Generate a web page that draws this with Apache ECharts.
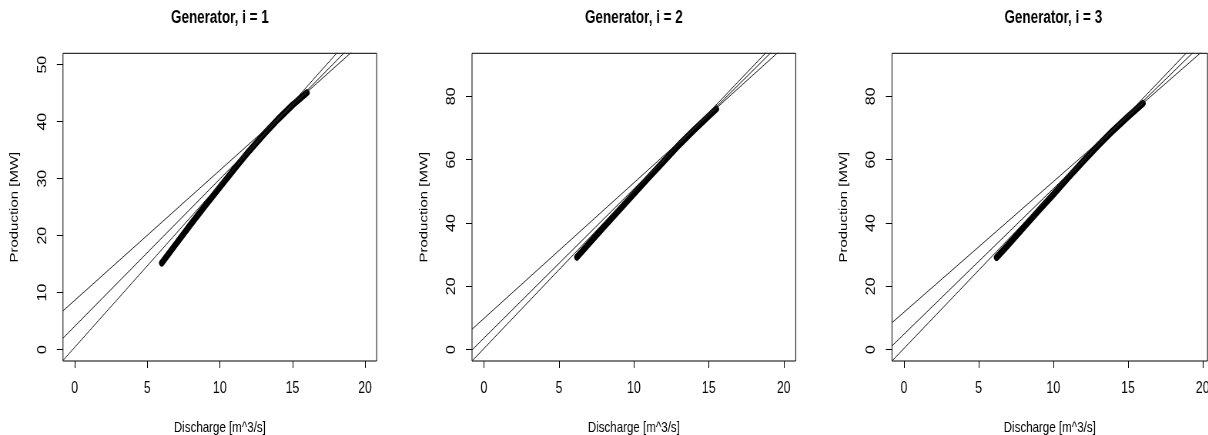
<!DOCTYPE html>
<html><head><meta charset="utf-8">
<script src="https://cdn.jsdelivr.net/npm/echarts@6/dist/echarts.min.js"></script>
<style>
html,body{margin:0;padding:0;overflow:hidden;background:#fff;width:1208px;height:435px}
#wrap{width:1208px;height:435px;overflow:hidden;position:relative}
#chart{width:1569px;height:435px;transform:scaleX(0.77);transform-origin:0 0;position:absolute;left:0;top:0}
</style>
</head><body><div id="wrap"><div id="chart"></div></div>
<script>
// ---- data ----
const titles = ['Generator, i = 1', 'Generator, i = 2', 'Generator, i = 3'];
const xLabel = 'Discharge [m^3/s]';
const yLabel = 'Production [MW]';
const xTicks = [0, 5, 10, 15, 20];
const yTicks1 = [0, 10, 20, 30, 40, 50];
const yTicks23 = [0, 20, 40, 60, 80];
const xRange12 = [-0.8, 20.8];
const xRange3 = [-0.8, 20.32];
const yRange1 = [-2, 52];
const yRange23 = [-3.6, 93.6];

const discharge1 = [6, 7, 8, 9, 10, 11, 12, 13, 14, 15, 16];
const production1 = [15.2, 18.6, 22.0, 25.3, 28.5, 31.7, 34.8, 37.7, 40.4, 42.9, 45.1];
const discharge2 = [6.2, 7, 8, 9, 10, 11, 12, 13, 14, 15, 15.5];
const production2 = [29.2, 33.5, 38.8, 44.0, 49.2, 54.4, 59.5, 64.6, 69.3, 73.8, 76.0];
const discharge3 = [6.2, 7, 8, 9, 10, 11, 12, 13, 14, 15, 16];
const production3 = [29.1, 33.2, 38.5, 43.8, 49.0, 54.3, 59.5, 64.5, 69.2, 73.6, 77.8];

// straight lines y = intercept + slope * x
const intercept1 = [8.63, 4.07, 0.39];
const slope1 = [2.285, 2.587, 2.861];
const intercept2 = [9.87, 3.67, 0.37];
const slope2 = [4.283, 4.709, 4.967];
const intercept3 = [11.8, 4.85, 0.35];
const slope3 = [4.127, 4.599, 4.939];

// ---- layout (chart canvas is drawn wide, then squeezed horizontally) ----
const panels = [
  { left: 81.8, width: 407.4, xRange: xRange12, yRange: yRange1, yTicks: yTicks1, q: discharge1, p: production1, a: intercept1, b: slope1, tc: 285.5 },
  { left: 613.0, width: 420.4, xRange: xRange12, yRange: yRange23, yTicks: yTicks23, q: discharge2, p: production2, a: intercept2, b: slope2, tc: 823.2 },
  { left: 1158.4, width: 409.8, xRange: xRange3, yRange: yRange23, yTicks: yTicks23, q: discharge3, p: production3, a: intercept3, b: slope3, tc: 1367.9 }
];
const FONT = 'Liberation Sans, Arial, sans-serif';
const gridTop = 53.3, gridHeight = 307.7;

const option = { animation: false, backgroundColor: '#fff', title: [], grid: [], xAxis: [], yAxis: [], series: [] };

panels.forEach((pn, i) => {
  option.title.push({
    text: titles[i], left: pn.tc, top: 9.5, textAlign: 'center', textVerticalAlign: 'top', padding: 0,
    textStyle: { fontFamily: FONT, fontSize: 17.5, fontWeight: 'bold', color: '#000' }
  });
  option.grid.push({
    left: pn.left, top: gridTop, width: pn.width, height: gridHeight,
    show: true, borderColor: '#000', borderWidth: 1, backgroundColor: 'transparent',
    containLabel: false, outerBoundsMode: 'none'
  });
  option.xAxis.push({
    type: 'value', gridIndex: i, min: pn.xRange[0], max: pn.xRange[1], position: 'bottom',
    name: xLabel, nameLocation: 'middle', nameGap: 59, nameMoveOverlap: false,
    nameTextStyle: { fontFamily: FONT, fontSize: 15, color: '#000' },
    axisLine: { show: false, onZero: false }, splitLine: { show: false },
    axisTick: { show: true, inside: false, customValues: xTicks, length: 7, lineStyle: { color: '#000', width: 1 } },
    axisLabel: { customValues: xTicks, margin: 19.5, fontFamily: FONT, fontSize: 16, color: '#000' }
  });
  option.yAxis.push({
    type: 'value', gridIndex: i, min: pn.yRange[0], max: pn.yRange[1], position: 'left',
    name: yLabel, nameLocation: 'middle', nameGap: 55, nameMoveOverlap: false,
    nameTextStyle: { fontFamily: FONT, fontSize: 15, color: '#000' },
    axisLine: { show: false, onZero: false }, splitLine: { show: false },
    axisTick: { show: true, inside: false, customValues: pn.yTicks, length: 8, lineStyle: { color: '#000', width: 1 } },
    axisLabel: { customValues: pn.yTicks, rotate: 90, margin: 18.5, fontFamily: FONT, fontSize: 16, color: '#000' }
  });
  option.series.push({
    type: 'line', xAxisIndex: i, yAxisIndex: i, silent: true, showSymbol: false, symbol: 'none',
    data: pn.q.map((x, k) => [x, pn.p[k]]),
    lineStyle: { color: '#000', width: 7, cap: 'round', join: 'round' }, z: 2
  });
  pn.a.forEach((a, k) => {
    const b = pn.b[k];
    const x0 = pn.xRange[0], x1 = pn.xRange[1];
    option.series.push({
      type: 'line', xAxisIndex: i, yAxisIndex: i, silent: true, showSymbol: false, symbol: 'none', clip: true,
      data: [[x0, a + b * x0], [x1, a + b * x1]],
      lineStyle: { color: '#222', width: 1 }, z: 3
    });
  });
});

const chart = echarts.init(document.getElementById('chart'), null, { renderer: 'canvas', devicePixelRatio: 1 });
chart.setOption(option);
</script>
</body></html>
